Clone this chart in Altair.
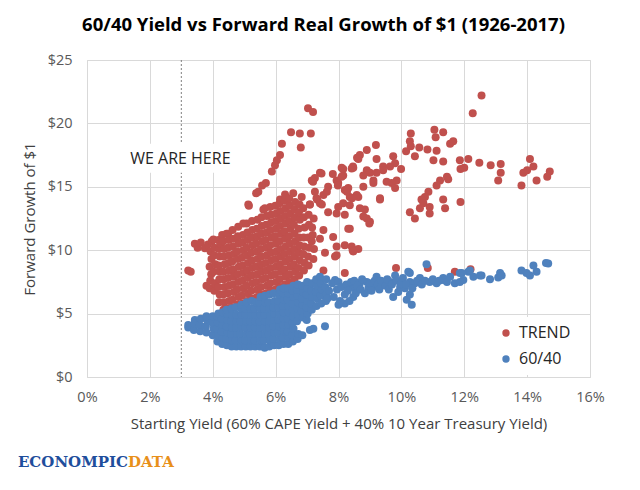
import pandas as pd
import altair as alt

# series values: (starting yield %, forward growth $)
trend_left = [
    (3.22, 8.4), (3.3, 8.3), (3.43, 10.5), (3.52, 10.2), (3.62, 10.6), (3.75, 10.15),
    (3.85, 10.45), (3.97, 10.7), (3.8, 7.2), (3.9, 7.0), (4.02, 10.85), (4.18, 10.8),
    (4.3, 11.2), (4.44, 11.3), (4.49, 11.3),
]
trend_core = [
    (3.92, 7.6), (3.95, 8.1), (3.9, 8.7), (3.96, 9.3), (3.93, 9.9), (4.05, 6.8), (4.07, 7.4),
    (4.03, 8.3), (4.08, 8.9), (4.04, 9.6), (4.06, 10.2),
    (4.2, 5.9), (4.22, 6.5), (4.18, 7.1), (4.21, 7.7), (4.23, 8.3), (4.19, 8.8), (4.22, 9.5),
    (4.2, 10.1), (4.24, 10.5),
    (4.34, 5.3), (4.36, 5.9), (4.33, 6.5), (4.37, 7.1), (4.35, 7.7), (4.34, 8.3), (4.38, 8.9),
    (4.35, 9.5), (4.36, 10.1), (4.33, 10.7),
    (4.5, 5.4), (4.52, 6.0), (4.48, 6.6), (4.51, 7.2), (4.49, 7.8), (4.53, 8.4), (4.5, 9.0),
    (4.52, 9.6), (4.48, 10.2), (4.51, 10.8),
    (4.65, 5.5), (4.63, 6.1), (4.67, 6.7), (4.64, 7.3), (4.66, 7.9), (4.65, 8.5), (4.62, 9.1),
    (4.67, 9.7), (4.64, 10.3), (4.66, 10.9), (4.63, 11.6),
    (4.8, 5.7), (4.82, 6.3), (4.78, 6.9), (4.81, 7.5), (4.79, 8.1), (4.83, 8.7), (4.8, 9.3),
    (4.78, 9.9), (4.82, 10.5), (4.8, 11.1), (4.81, 11.85),
    (4.95, 5.8), (4.93, 6.4), (4.97, 7.0), (4.94, 7.6), (4.96, 8.2), (4.95, 8.8), (4.93, 9.4),
    (4.97, 10.0), (4.94, 10.6), (4.96, 11.2), (4.97, 12.1),
    (5.1, 6.0), (5.12, 6.6), (5.08, 7.2), (5.11, 7.8), (5.09, 8.4), (5.12, 9.0), (5.1, 9.6),
    (5.08, 10.2), (5.11, 10.8), (5.1, 11.4), (5.08, 12.1),
    (5.25, 6.2), (5.23, 6.8), (5.27, 7.4), (5.24, 8.0), (5.26, 8.6), (5.25, 9.2), (5.23, 9.8),
    (5.27, 10.4), (5.24, 11.0), (5.26, 11.6), (5.25, 12.3),
    (5.4, 6.3), (5.42, 6.9), (5.38, 7.5), (5.41, 8.1), (5.39, 8.7), (5.42, 9.3), (5.4, 9.9),
    (5.38, 10.5), (5.41, 11.1), (5.4, 11.7), (5.42, 12.4),
    (5.55, 6.5), (5.53, 7.1), (5.57, 7.7), (5.54, 8.3), (5.56, 8.9), (5.55, 9.5), (5.53, 10.1),
    (5.57, 10.7), (5.54, 11.3), (5.56, 11.9), (5.55, 12.6),
    (5.7, 6.6), (5.72, 7.2), (5.68, 7.8), (5.71, 8.4), (5.69, 9.0), (5.72, 9.6), (5.7, 10.2),
    (5.68, 10.8), (5.71, 11.4), (5.7, 12.0), (5.72, 12.7), (5.61, 13.2),
    (5.85, 6.8), (5.83, 7.4), (5.87, 8.0), (5.84, 8.6), (5.86, 9.2), (5.85, 9.8), (5.83, 10.4),
    (5.87, 11.0), (5.84, 11.6), (5.86, 12.2), (5.85, 12.8), (5.83, 13.4),
    (6.0, 6.9), (6.02, 7.5), (5.98, 8.1), (6.01, 8.7), (5.99, 9.3), (6.02, 9.9), (6.0, 10.5),
    (5.98, 11.1), (6.01, 11.7), (6.0, 12.3), (6.02, 12.9), (5.99, 13.5), (6.14, 14.0),
    (6.15, 7.1), (6.13, 7.7), (6.17, 8.3), (6.14, 8.9), (6.16, 9.5), (6.15, 10.1), (6.13, 10.7),
    (6.17, 11.3), (6.14, 11.9), (6.16, 12.5), (6.15, 13.1), (6.13, 13.7),
    (6.3, 7.3), (6.32, 7.9), (6.28, 8.5), (6.31, 9.1), (6.29, 9.7), (6.32, 10.3), (6.3, 10.9),
    (6.28, 11.5), (6.31, 12.1), (6.3, 12.7), (6.32, 13.3), (6.29, 13.9), (6.3, 14.4),
    (6.45, 7.5), (6.43, 8.1), (6.47, 8.7), (6.44, 9.3), (6.46, 9.9), (6.45, 10.5), (6.43, 11.1),
    (6.47, 11.7), (6.44, 12.3), (6.46, 12.9), (6.45, 13.5), (6.43, 14.1),
    (6.6, 7.7), (6.62, 8.3), (6.58, 8.9), (6.61, 9.5), (6.59, 10.1), (6.62, 10.7), (6.6, 11.3),
    (6.58, 12.0), (6.61, 12.6), (6.6, 13.2), (6.62, 13.8), (6.56, 14.5),
    (6.75, 8.0), (6.73, 8.6), (6.77, 9.2), (6.74, 9.8), (6.76, 10.4), (6.75, 11.0), (6.73, 11.7),
    (6.77, 12.4), (6.74, 13.0), (6.76, 13.6),
    (6.9, 8.4), (6.92, 9.0), (6.88, 9.7), (6.91, 10.3), (6.89, 11.0), (6.92, 11.8), (6.9, 12.6),
    (6.88, 13.3), (6.83, 14.2),
    (7.05, 8.8), (7.03, 9.5), (7.07, 10.2), (7.04, 11.0), (7.06, 12.0), (7.05, 12.8), (7.09, 13.6),
    (7.2, 9.3), (7.22, 10.1), (7.18, 11.2), (7.21, 12.5), (7.3, 14.1),
]
trend_upper = [
    (7.03, 21.2), (7.19, 20.9), (6.49, 19.3), (6.77, 19.2), (7.12, 19.2), (6.8, 18.1),
    (6.2, 18.4), (6.14, 17.5), (6.04, 17.1), (5.98, 16.7), (5.88, 16.2), (5.69, 15.3),
    (5.57, 15.1), (5.38, 14.5), (5.45, 14.6), (5.15, 13.5), (5.13, 13.6), (5.66, 13.3),
]
trend_mid = [
    (7.41, 16.1), (7.25, 15.7), (7.19, 15.4), (7.46, 16.05), (7.82, 16.0), (8.1, 16.5),
    (8.15, 15.9), (8.42, 16.45), (8.46, 16.6), (8.59, 17.3), (8.68, 17.5), (8.63, 17.2),
    (8.9, 17.9), (9.19, 18.3), (9.21, 17.2), (9.42, 16.6), (8.9, 16.3), (9.0, 16.1),
    (8.79, 15.9), (8.47, 16.5), (8.15, 16.4), (7.94, 15.5), (7.15, 15.5), (7.67, 15.0),
    (7.99, 15.3), (8.2, 14.75), (8.31, 14.9), (8.36, 14.2), (8.63, 14.2), (8.58, 14.35),
    (8.79, 15.0), (9.11, 15.3), (9.32, 14.1), (9.53, 15.4), (9.11, 15.5), (9.21, 16.1),
    (7.25, 14.6), (7.52, 14.35), (7.63, 14.6), (7.98, 15.1), (8.27, 14.6), (8.43, 14.1),
    (7.32, 14.0), (7.41, 13.7), (7.47, 13.6), (7.67, 13.0), (7.99, 13.4), (8.36, 13.55),
    (8.2, 12.8), (8.84, 13.2), (8.9, 12.5), (9.0, 12.25), (8.98, 12.1), (8.36, 11.7),
    (8.31, 11.7), (7.16, 11.8), (7.52, 11.6), (7.41, 10.9), (7.83, 11.05), (8.2, 10.4),
    (8.42, 10.3), (8.45, 10.0), (8.63, 10.1), (7.94, 10.3), (7.89, 9.5), (7.57, 9.8),
    (7.94, 9.6), (8.47, 9.9), (8.2, 8.2), (7.52, 8.4), (7.15, 10.7), (8.15, 13.7),
    (8.68, 13.3), (8.79, 12.65), (7.94, 12.9), (7.09, 13.6), (8.1, 15.8),
]
trend_far = [
    (12.55, 22.2), (12.27, 20.8), (11.05, 19.5), (11.33, 19.3), (11.09, 18.9), (10.3, 19.2),
    (10.27, 18.6), (10.3, 18.2), (11.55, 18.4), (11.65, 18.6), (10.57, 18.1), (10.15, 17.8),
    (10.43, 17.4), (10.83, 17.95), (11.12, 17.85), (11.02, 17.1), (11.33, 17.0), (11.86, 17.1),
    (12.13, 17.2), (12.48, 16.9), (12.84, 16.7), (13.16, 16.8), (14.09, 17.2), (14.2, 16.6),
    (13.88, 16.1), (14.0, 16.3), (14.3, 15.5), (13.82, 15.1), (14.72, 16.2), (14.64, 15.8),
    (13.16, 16.1), (13.08, 15.5), (11.88, 16.4), (11.49, 15.6), (11.23, 15.5), (11.12, 15.1),
    (10.86, 14.6), (10.75, 14.2), (10.64, 14.0), (11.33, 14.0), (10.9, 13.4), (10.59, 13.3),
    (11.39, 13.3), (11.88, 13.8), (10.9, 12.9), (10.27, 13.0), (10.43, 12.5), (9.99, 16.4),
    (9.85, 15.5), (9.69, 15.3), (9.8, 14.9), (9.32, 14.0), (9.74, 17.4), (9.8, 16.85),
    (9.64, 16.6), (9.42, 16.3), (9.83, 8.6), (10.84, 8.6), (11.7, 8.3), (12.2, 8.5),
    (11.45, 15.8), (10.7, 13.7), (12.0, 16.5),
]
mix_tail = [
    (3.22, 3.9), (3.22, 4.1), (3.3, 4.0), (3.4, 3.7), (3.43, 4.5), (3.42, 4.2), (3.6, 3.6),
    (3.58, 4.1), (3.62, 4.6), (3.8, 3.5), (3.78, 4.0), (3.82, 4.5), (3.8, 4.8), (4.0, 3.3),
    (4.02, 3.8), (3.98, 4.3), (4.0, 4.8),
]
mix_core = [
    (4.15, 2.8), (4.17, 3.3), (4.13, 3.8), (4.16, 4.3), (4.14, 4.8), (4.18, 5.0),
    (4.3, 2.6), (4.32, 3.1), (4.28, 3.6), (4.31, 4.1), (4.29, 4.6), (4.32, 5.1),
    (4.45, 2.5), (4.43, 3.0), (4.47, 3.5), (4.44, 4.0), (4.46, 4.5), (4.45, 5.0), (4.44, 5.3),
    (4.6, 2.4), (4.62, 2.9), (4.58, 3.4), (4.61, 3.9), (4.59, 4.4), (4.62, 4.9), (4.6, 5.4),
    (4.75, 2.4), (4.73, 2.9), (4.77, 3.4), (4.74, 3.9), (4.76, 4.4), (4.75, 4.9), (4.73, 5.5),
    (4.9, 2.4), (4.92, 2.9), (4.88, 3.4), (4.91, 3.9), (4.89, 4.4), (4.92, 4.9), (4.9, 5.4), (4.91, 5.7),
    (5.05, 2.4), (5.03, 2.9), (5.07, 3.4), (5.04, 3.9), (5.06, 4.4), (5.05, 4.9), (5.03, 5.4), (5.08, 5.9),
    (5.2, 2.4), (5.22, 2.9), (5.18, 3.4), (5.21, 3.9), (5.19, 4.4), (5.22, 4.9), (5.2, 5.4), (5.24, 6.0),
    (5.35, 2.4), (5.33, 2.9), (5.37, 3.4), (5.34, 3.9), (5.36, 4.4), (5.35, 4.9), (5.33, 5.4), (5.37, 5.9),
    (5.5, 2.4), (5.52, 2.9), (5.48, 3.4), (5.51, 3.9), (5.49, 4.4), (5.52, 4.9), (5.5, 5.4), (5.48, 5.9), (5.52, 6.3),
    (5.65, 2.3), (5.63, 2.9), (5.67, 3.4), (5.64, 3.9), (5.66, 4.4), (5.65, 4.9), (5.63, 5.4), (5.67, 5.9), (5.66, 6.4),
    (5.8, 2.4), (5.82, 2.9), (5.78, 3.4), (5.81, 3.9), (5.79, 4.4), (5.82, 4.9), (5.8, 5.4), (5.78, 5.9), (5.81, 6.5),
    (5.95, 2.5), (5.93, 3.0), (5.97, 3.5), (5.94, 4.0), (5.96, 4.5), (5.95, 5.0), (5.93, 5.5), (5.97, 6.0), (5.94, 6.6),
    (6.1, 2.5), (6.12, 3.0), (6.08, 3.5), (6.11, 4.0), (6.09, 4.5), (6.12, 5.0), (6.1, 5.5), (6.08, 6.0), (6.11, 6.5), (6.14, 6.9),
    (6.25, 2.6), (6.23, 3.1), (6.27, 3.6), (6.24, 4.1), (6.26, 4.6), (6.25, 5.1), (6.23, 5.6), (6.27, 6.1), (6.24, 6.6), (6.26, 7.0),
    (6.4, 2.6), (6.42, 3.1), (6.38, 3.6), (6.41, 4.1), (6.39, 4.6), (6.42, 5.1), (6.4, 5.6), (6.38, 6.1), (6.41, 6.6), (6.4, 7.0),
    (6.55, 2.8), (6.53, 3.3), (6.57, 3.8), (6.54, 4.3), (6.56, 4.8), (6.55, 5.3), (6.53, 5.8), (6.57, 6.3), (6.54, 6.8), (6.56, 7.2),
    (6.7, 3.0), (6.72, 3.4), (6.68, 4.4), (6.71, 4.9), (6.69, 5.4), (6.72, 5.9), (6.7, 6.4), (6.68, 6.9), (6.71, 7.3),
    (6.85, 3.3), (6.87, 4.7), (6.83, 5.2), (6.86, 5.7), (6.84, 6.2), (6.87, 6.7), (6.85, 7.2),
    (6.99, 4.5), (7.02, 5.0), (6.98, 5.5), (7.01, 6.0), (6.99, 6.5), (7.02, 7.0), (7.0, 7.5),
    (7.09, 3.7), (7.2, 3.8), (7.15, 5.3), (7.13, 5.8), (7.17, 6.3), (7.14, 6.8), (7.16, 7.4),
    (7.3, 5.6), (7.32, 6.2), (7.28, 6.7), (7.31, 7.2), (7.29, 7.7),
    (7.45, 5.8), (7.43, 6.4), (7.47, 6.9), (7.44, 7.4), (7.41, 7.9),
    (7.57, 4.0), (7.6, 6.0), (7.62, 6.6), (7.58, 7.1), (7.61, 7.7),
]
mix_band = [
    (7.89, 7.65), (8.2, 6.5), (8.2, 5.8), (8.47, 6.3), (8.36, 7.1), (8.52, 7.0), (8.68, 7.4),
    (8.84, 6.6), (8.9, 7.5), (9.11, 7.1), (9.21, 7.9), (9.42, 7.4), (9.64, 7.5), (9.74, 6.3),
    (9.8, 8.0), (9.96, 7.1), (10.11, 7.0), (10.17, 6.1), (10.27, 6.5), (10.33, 5.7),
    (10.27, 7.5), (10.22, 8.3), (10.43, 7.4), (10.59, 7.8), (10.8, 8.9), (10.9, 7.5),
    (11.12, 7.4), (11.33, 7.8), (11.7, 7.4), (11.97, 7.65), (11.86, 8.2), (12.13, 8.3),
    (12.29, 7.9), (12.55, 8.0), (12.82, 7.7), (13.08, 7.85), (13.14, 8.2), (14.09, 8.0),
    (14.3, 8.3), (13.82, 8.4), (14.2, 8.8), (14.67, 8.96), (14.6, 9.0), (13.98, 8.2),
    (13.19, 8.0), (12.5, 8.0), (12.18, 8.4), (11.92, 8.2), (11.86, 7.5), (11.33, 7.65),
    (10.27, 8.2), (7.7, 6.8), (7.8, 7.4), (7.95, 6.9), (8.0, 7.5), (8.1, 7.1), (8.25, 7.3),
    (8.3, 6.8), (8.4, 7.5), (8.5, 7.6), (8.55, 6.6), (8.6, 7.2), (8.7, 6.9), (8.75, 7.7),
    (8.95, 7.0), (9.0, 7.4), (9.05, 6.8), (9.15, 7.6), (9.25, 7.3), (9.3, 6.9), (9.35, 7.6),
    (9.5, 7.2), (9.55, 7.7), (9.6, 6.9), (9.7, 7.3), (9.85, 7.6), (9.9, 6.7), (10.0, 7.4),
    (10.05, 7.8), (10.15, 7.3), (10.35, 7.0), (10.5, 7.6), (10.65, 7.3), (10.75, 7.6),
    (11.0, 7.7), (11.2, 7.6), (11.45, 7.5), (11.55, 7.9), (7.65, 6.2), (7.85, 6.3),
    (8.05, 6.0), (8.35, 6.0), (8.0, 5.7),
]

series_names = ["TREND", "60/40"]
series_colors = ["#C0504D", "#4F81BD"]
x_ticks = [0, 2, 4, 6, 8, 10, 12, 14, 16]
y_ticks = [0, 5, 10, 15, 20, 25]

rows = []
for pts, name in [(trend_left + trend_core + trend_upper + trend_mid + trend_far, "TREND"),
                  (mix_tail + mix_core + mix_band, "60/40")]:
    for x, y in pts:
        rows.append({"x": x, "y": y, "series": name})
df = pd.DataFrame(rows)

FONT = "Open Sans"

points = alt.Chart(df).mark_circle(size=64, opacity=1).encode(
    x=alt.X("x:Q", scale=alt.Scale(domain=[0, 16], nice=False),
            axis=alt.Axis(values=x_ticks, labelExpr="datum.value + '%'", labelFlush=False,
                          title="Starting Yield (60% CAPE Yield + 40% 10 Year Treasury Yield)")),
    y=alt.Y("y:Q", scale=alt.Scale(domain=[0, 25], nice=False),
            axis=alt.Axis(values=y_ticks, labelExpr="'$' + datum.value", labelFlush=False,
                          title="Forward Growth of $1")),
    color=alt.Color("series:N", sort=series_names,
                    scale=alt.Scale(domain=series_names, range=series_colors),
                    legend=alt.Legend(orient="none", legendX=403, legendY=257, title=None,
                                      fillColor="white", padding=8, labelFontSize=16,
                                      labelFont=FONT, labelColor="#262626", symbolSize=55,
                                      symbolType="circle", rowPadding=10, labelOffset=5)),
)

marker = pd.DataFrame({"x": [3]})
here_rule = alt.Chart(marker).mark_rule(color="#808080", strokeDash=[2, 2], strokeWidth=1).encode(
    x="x:Q"
)

label_box = pd.DataFrame({"x": [1.0], "x2": [4.85], "y": [16.1], "y2": [18.4]})
here_box = alt.Chart(label_box).mark_rect(color="white").encode(
    x="x:Q", x2="x2", y="y:Q", y2="y2"
)

label_pos = pd.DataFrame({"x": [2.97], "y": [17.2], "t": ["WE ARE HERE"]})
here_text = alt.Chart(label_pos).mark_text(font=FONT, fontSize=16, color="#262626",
                                           align="center", baseline="middle").encode(
    x="x:Q", y="y:Q", text="t:N"
)

logo = pd.DataFrame({"a": ["ECONOMPIC"], "b": ["DATA"]})
logo_a = alt.Chart(logo).mark_text(font="DejaVu Serif", fontWeight="bold", fontSize=15,
                                   color="#1F4E9C", align="right", baseline="middle").encode(
    x=alt.value(41), y=alt.value(402), text="a:N"
)
logo_b = alt.Chart(logo).mark_text(font="DejaVu Serif", fontWeight="bold", fontSize=15,
                                   color="#E8901A", align="left", baseline="middle").encode(
    x=alt.value(41), y=alt.value(402), text="b:N"
)

chart = alt.layer(points, here_rule, here_box, here_text, logo_a, logo_b).properties(
    width=503, height=317,
    autosize=alt.AutoSizeParams(type="none"),
    padding={"left": 79, "top": 52, "right": 30, "bottom": 100},
    title=alt.TitleParams("60/40 Yield vs Forward Real Growth of $1 (1926-2017)",
                          font=FONT, fontSize=18.5, fontWeight="bold", color="#000000",
                          anchor="middle", dx=-15, offset=18),
).configure_view(
    stroke="#D9D9D9"
).configure_axis(
    gridColor="#D9D9D9", domain=False, ticks=False, labelFont=FONT, labelFontSize=14.5,
    labelColor="#595959", titleFont=FONT, titleFontSize=15, titleColor="#404040",
    titleFontWeight="normal"
).configure_axisX(
    labelPadding=13, titlePadding=13
).configure_axisY(
    labelPadding=15, titlePadding=10
)

chart.save("out.html", embed_options={"renderer": "svg", "actions": False})
